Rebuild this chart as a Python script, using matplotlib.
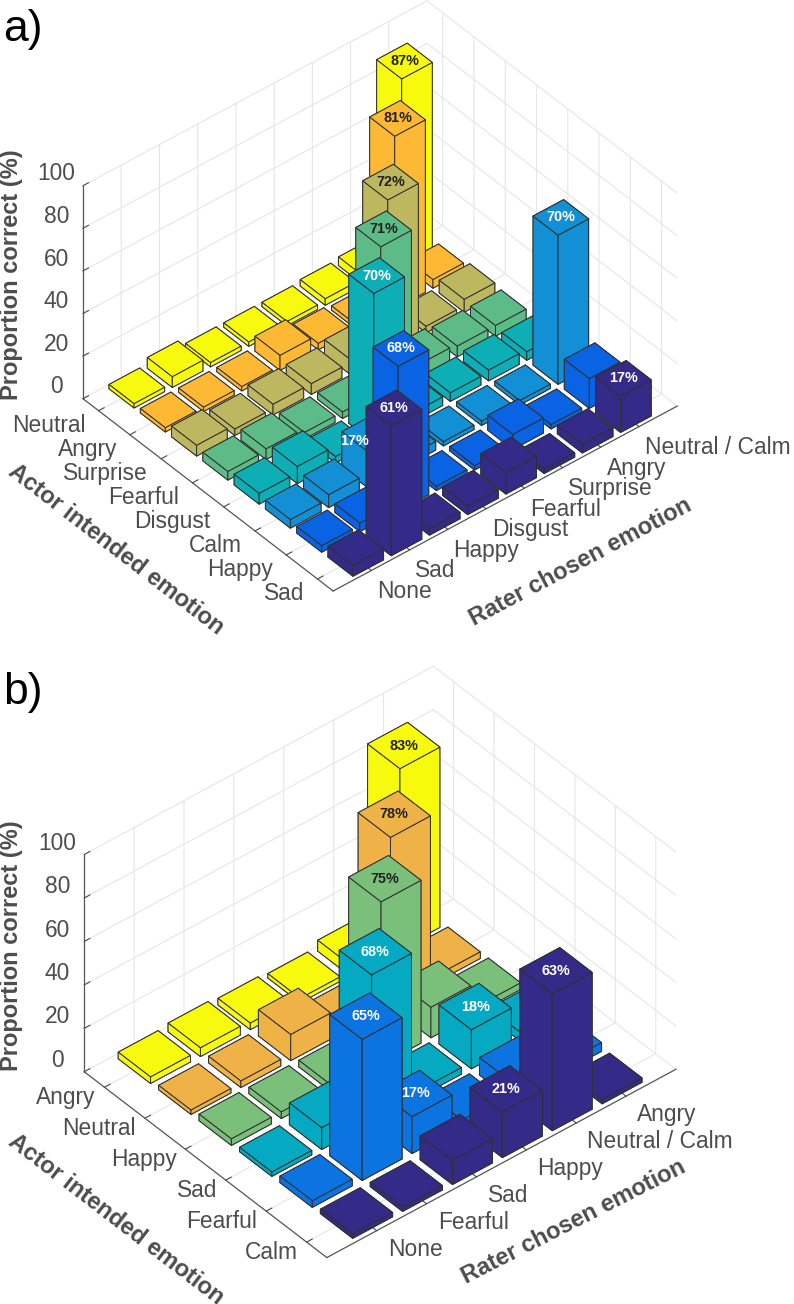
"""Emotion confusion matrices as 3D bars, panels a) and b)"""
import matplotlib
matplotlib.use('Agg')
import matplotlib.pyplot as plt

plt.rcParams.update({'font.family': ['Liberation Sans', 'DejaVu Sans'],
                     'figure.dpi': 100})

W, H = 794, 1304
TEXT_GRAY = '#4d4d4d'
EDGE = '#303030'

# panel a
a_actor = ['Neutral', 'Angry', 'Surprise', 'Fearful', 'Disgust', 'Calm', 'Happy', 'Sad']
a_rater = ['None', 'Sad', 'Happy', 'Disgust', 'Fearful', 'Surprise', 'Angry', 'Neutral / Calm']
a_values = [
    [2, 5, 2, 2, 2, 3, 4, 87],
    [2, 2, 2, 7, 3, 2, 81, 4],
    [5, 3, 5, 5, 7, 72, 3, 6],
    [4, 5, 3, 3, 71, 6, 5, 5],
    [5, 8, 3, 70, 4, 4, 5, 4],
    [4, 6, 17, 4, 2, 2, 2, 70],
    [3, 4, 68, 2, 2, 7, 2, 14],
    [5, 61, 3, 4, 10, 2, 4, 17],
]
a_colors = ['#f8fa0d', '#fdb933', '#bdb75f', '#5cbb87', '#0eaeb6', '#1390d5', '#0a63e2', '#342a87']

# panel b
b_actor = ['Angry', 'Neutral', 'Happy', 'Sad', 'Fearful', 'Calm']
b_rater = ['None', 'Fearful', 'Sad', 'Happy', 'Neutral / Calm', 'Angry']
b_values = [
    [3, 4, 3, 2, 5, 83],
    [2, 3, 12, 3, 78, 3],
    [3, 3, 3, 75, 14, 3],
    [2, 10, 68, 3, 18, 4],
    [3, 65, 17, 3, 8, 4],
    [2, 2, 11, 21, 63, 2],
]
b_colors = ['#f8fa0d', '#efb247', '#7abf7a', '#05a9c2', '#0c74e0', '#342a87']

z_ticks = [0, 20, 40, 60, 80, 100]
BAR_W = 0.8


def draw_panel(left, bottom, size, aspect, elev, azim, actor, rater, values, colors,
               n_dark, x_va, x_pad, y_pad, nudge=None):
    ax = fig.add_axes([left / W, 1 - bottom / H, size / W, size / H],
                      projection='3d', computed_zorder=False)
    ax.patch.set_alpha(0)
    ax.set_proj_type('ortho')
    ax.set_box_aspect(aspect)
    ax.view_init(elev=elev, azim=azim)

    n_y = len(actor)
    n_x = len(rater)
    order = 1
    # back to front so nearer bars paint over the far ones
    for i in range(n_y):
        for j in range(n_x - 1, -1, -1):
            v = values[i][j]
            x0 = j + 1 - BAR_W / 2
            y0 = n_y - i - BAR_W / 2
            bars = ax.bar3d(x0, y0, 0, BAR_W, BAR_W, v, color=colors[i],
                            edgecolor=EDGE, linewidth=0.7, shade=False)
            bars.set_zorder(order)
            order += 1
            if v >= 15:
                col = 'white' if i >= n_dark else '#222222'
                # a half hidden bar has its label slid to the visible side
                dx = nudge if nudge and (i, j) == (5, 2) else 0
                ax.text(j + 1 + dx, n_y - i, v, f'{v}%', ha='center', va='center',
                        fontsize=10.4, fontweight='bold', color=col, zorder=1000)

    ax.set_xlim(0, n_x + 1)
    ax.set_ylim(0.5, n_y + 0.5)
    ax.set_zlim(0, 100)
    ax.set_xticks(range(1, n_x + 1))
    ax.set_xticklabels(rater, ha='left', va=x_va)
    ax.set_yticks(range(1, n_y + 1))
    ax.set_yticklabels(actor[::-1], ha='right', va='center')
    ax.set_zticks(z_ticks)
    ax.set_zticklabels([str(t) for t in z_ticks], ha='center', va='bottom')
    ax.tick_params(labelsize=16.4, colors=TEXT_GRAY)
    ax.tick_params(axis='x', pad=x_pad)
    ax.tick_params(axis='y', pad=y_pad)
    ax.tick_params(axis='z', pad=2.75)

    for axis in (ax.xaxis, ax.yaxis, ax.zaxis):
        axis.set_pane_color((1, 1, 1, 0))
        axis.pane.set_edgecolor('#dcdcdc')
        axis.line.set_color('#555555')
        axis.line.set_linewidth(0.9)
        axis._axinfo['grid'].update(color='#e6e6e6', linewidth=0.8)
        axis._axinfo['tick'].update(inward_factor=0.0, outward_factor=0.2)
    return ax


fig = plt.figure(figsize=(W / 100, H / 100))

draw_panel(53, 623, 637, (448.5, 390, 278), 40, -129.9, a_actor, a_rater, a_values, a_colors,
           4, 'top', -2.5, 1, nudge=-0.4)
draw_panel(53, 1289, 637, (456, 377.6, 283.7), 40, -130, b_actor, b_rater, b_values, b_colors,
           3, 'center', 3, -2)


def label(x, y, s, **kw):
    fig.text(x / W, 1 - y / H, s, ha='center', va='center', **kw)


axis_font = dict(fontsize=17, fontweight='bold', color=TEXT_GRAY)
label(12, 275, 'Proportion correct (%)', rotation=90, **axis_font)
label(116, 550, 'Actor intended emotion', rotation=-37.5, **axis_font)
label(580, 562, 'Rater chosen emotion', rotation=28, **axis_font)
label(12, 946, 'Proportion correct (%)', rotation=90, **axis_font)
label(116, 1220, 'Actor intended emotion', rotation=-37.5, **axis_font)
label(574, 1222, 'Rater chosen emotion', rotation=27, **axis_font)

label(23, 30, 'a)', fontsize=32, color='black')
label(23, 692, 'b)', fontsize=32, color='black')

plt.savefig('out.png', dpi=100)
plt.close()
